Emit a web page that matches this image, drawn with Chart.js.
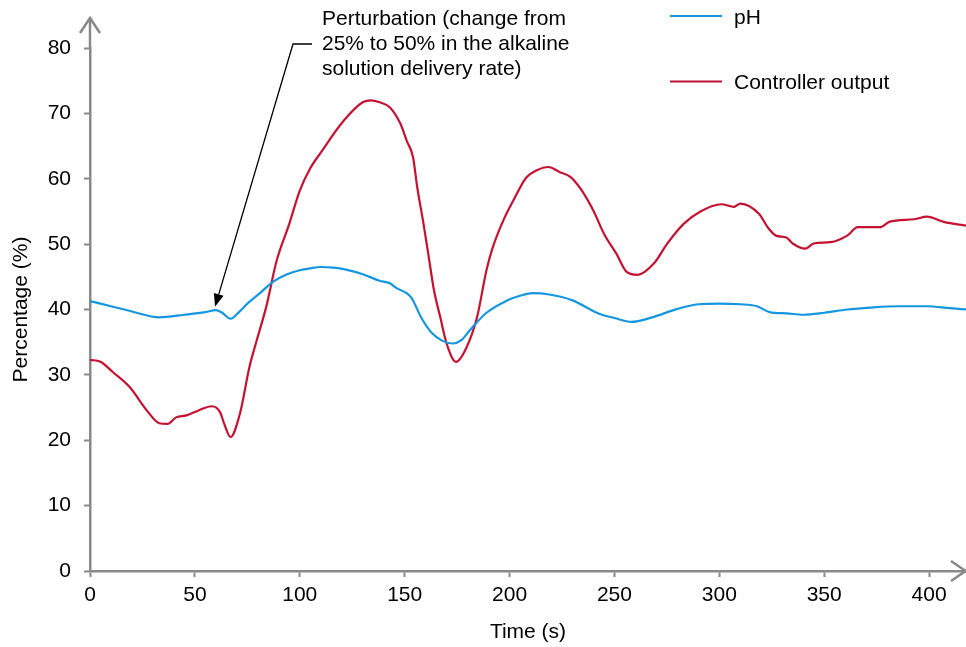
<!DOCTYPE html>
<html>
<head>
<meta charset="utf-8">
<script src="https://cdn.jsdelivr.net/npm/chart.js@4/dist/chart.umd.min.js"></script>
<style>
  html,body{margin:0;padding:0;background:#fff;}
  #wrap{width:966px;height:647px;position:relative;}
</style>
</head>
<body>
<div id="wrap"><canvas id="myChart" width="966" height="647"></canvas></div>
<script>
// time (s) and readings (%)
let phTime=[0,10,20,33,45,55,60,63,67,71,75,81,87,94,100,105,110,116,122,130,138,143,146,153,158,163,168,173,177,181,189,199,205,211,219,230,243,250,258,268,280,290,300,310,318,324,332,340,350,361,372,385,399,410,418]
let phValues=[41.3,40.5,39.7,38.8,39.2,39.6,39.9,39.5,38.6,39.6,40.9,42.5,44.2,45.4,46.0,46.3,46.5,46.4,46.1,45.4,44.4,44.0,43.3,41.9,38.7,36.4,35.2,34.8,35.3,36.8,39.5,41.4,42.1,42.5,42.3,41.4,39.3,38.7,38.1,38.8,40.1,40.8,40.9,40.8,40.5,39.6,39.4,39.2,39.5,40.0,40.3,40.5,40.5,40.2,40.0]

let coTime=[0,5,11,19,27,33,37,41,46,52,58,62,64,67,71.5,76,79.5,84,89,95,100,105,110,121,130,134,138,143,148,151,154,156,159,161.5,164,167,170,174.5,179.5,184.5,189,192,197,202,208,213,218.5,224,229,234,240,245,251,256,261,269,275,283,291,301,307,310,319,323,327,332,335,341,345,353,361,366,377,381,393,399,407,418]
let coValues=[32.3,32.0,30.4,28.1,24.6,22.6,22.5,23.5,23.8,24.6,25.2,24.3,22.5,20.5,24.1,31.2,35.3,40.4,47.5,53.1,58.2,61.6,64.0,68.9,71.7,72.0,71.7,70.9,68.4,65.8,63.3,58.7,53.1,48.0,42.9,38.8,34.8,32.0,34.2,38.8,46.0,49.5,53.6,56.8,60.2,61.3,61.8,61.0,60.3,58.4,55.1,51.6,48.5,45.7,45.3,47.1,50.0,53.1,55.0,56.1,55.7,56.2,54.6,52.6,51.3,51.0,50.1,49.3,50.1,50.3,51.3,52.6,52.6,53.4,53.8,54.2,53.4,52.8]

let seriesNames=['pH','Controller output']
let noteLines=['Perturbation (change from','25% to 50% in the alkaline','solution delivery rate)']
let noteAt={x:59.6,y:40.1}   // where the arrow points (time, %)

const FONT='"Liberation Sans", Arial, sans-serif'
const AXIS='#898989'

function pairs(xs,ys){
    let out=[]
    for(let i=0;i<xs.length;i++) out.push({x:xs[i],y:ys[i]})
    return out
}

// axis arrows, legend and the note with its arrow
const extras={
    id:'extras',
    afterDraw(chart){
        const ctx=chart.ctx, a=chart.chartArea
        ctx.save()
        ctx.strokeStyle=AXIS
        ctx.lineWidth=2.5
        // y axis goes on above 80
        ctx.beginPath()
        ctx.moveTo(a.left,a.top)
        ctx.lineTo(a.left,18)
        ctx.stroke()
        ctx.beginPath()
        ctx.moveTo(a.left-10,33);ctx.lineTo(a.left,18);ctx.lineTo(a.left+10,33)
        ctx.stroke()
        // x axis arrow
        ctx.beginPath()
        ctx.moveTo(a.right-15,a.bottom-10);ctx.lineTo(a.right-0.5,a.bottom);ctx.lineTo(a.right-15,a.bottom+10)
        ctx.stroke()

        // legend
        ctx.font='21px '+FONT
        ctx.textBaseline='middle'
        ctx.fillStyle='#000'
        chart.data.datasets.forEach((ds,i)=>{
            let y=16+i*65.5
            ctx.strokeStyle=ds.borderColor
            ctx.lineWidth=2
            ctx.beginPath();ctx.moveTo(670,y);ctx.lineTo(722,y);ctx.stroke()
            ctx.fillText(ds.label,734,y+2)
        })

        // note
        noteLines.forEach((t,i)=>ctx.fillText(t,322,19+i*25))
        let tx=chart.scales.x.getPixelForValue(noteAt.x)
        let ty=chart.scales.y.getPixelForValue(noteAt.y)-2
        let sx=293, sy=44
        ctx.strokeStyle='#000'
        ctx.lineWidth=1.3
        ctx.beginPath()
        ctx.moveTo(312,sy);ctx.lineTo(sx,sy)
        let ang=Math.atan2(ty-sy,tx-sx)
        let bx=tx-13*Math.cos(ang), by=ty-13*Math.sin(ang)
        ctx.lineTo(bx,by)
        ctx.stroke()
        ctx.fillStyle='#000'
        ctx.beginPath()
        ctx.moveTo(tx,ty)
        ctx.lineTo(bx+5*Math.sin(ang),by-5*Math.cos(ang))
        ctx.lineTo(bx-5*Math.sin(ang),by+5*Math.cos(ang))
        ctx.closePath()
        ctx.fill()
        ctx.restore()
    }
}

let ctx=document.getElementById('myChart').getContext('2d')
let myChart=new Chart(ctx,{
    type:'line',
    data:{
        datasets:[
            {label:seriesNames[0],data:pairs(phTime,phValues),borderColor:'#1496e0',borderWidth:2.2,pointRadius:0,cubicInterpolationMode:'monotone'},
            {label:seriesNames[1],data:pairs(coTime,coValues),borderColor:'#c41230',borderWidth:2.2,pointRadius:0,cubicInterpolationMode:'monotone'}
        ]
    },
    options:{
        responsive:false,
        animation:false,
        layout:{padding:{top:48,right:0,left:0,bottom:0}},
        plugins:{legend:{display:false},tooltip:{enabled:false}},
        scales:{
            x:{
                type:'linear',min:0,max:417.6,
                border:{color:AXIS,width:2.5},
                grid:{drawOnChartArea:false,color:AXIS,tickLength:6,tickWidth:2},
                ticks:{stepSize:50,includeBounds:false,padding:6,color:'#000',font:{family:FONT,size:21}},
                title:{display:true,text:'Time (s)',color:'#000',font:{family:FONT,size:21},padding:{top:0,bottom:2}},
                afterFit:s=>{s.height=76}
            },
            y:{
                min:0,max:80,
                border:{color:AXIS,width:2.5},
                grid:{drawOnChartArea:false,color:AXIS,tickLength:6,tickWidth:2},
                ticks:{stepSize:10,padding:13,color:'#000',font:{family:FONT,size:21}},
                title:{display:true,text:'Percentage (%)',color:'#000',font:{family:FONT,size:21},padding:{top:9,bottom:0}},
                afterFit:s=>{s.width=90}
            }
        }
    },
    plugins:[extras]
})
</script>
</body>
</html>
